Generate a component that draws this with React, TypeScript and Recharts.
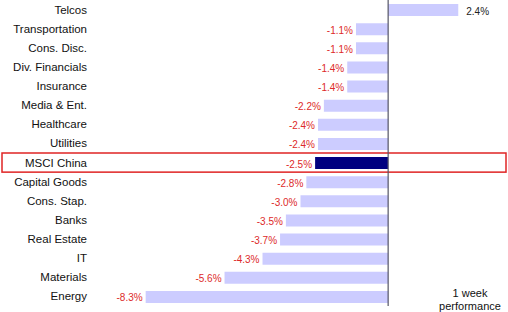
import React from 'react';
import { BarChart, Bar, XAxis, YAxis, Cell, LabelList, ReferenceLine, ReferenceArea } from 'recharts';

const sectors = [
  'Telcos', 'Transportation', 'Cons. Disc.', 'Div. Financials', 'Insurance', 'Media & Ent.',
  'Healthcare', 'Utilities', 'MSCI China', 'Capital Goods', 'Cons. Stap.', 'Banks',
  'Real Estate', 'IT', 'Materials', 'Energy',
];
const weekReturns = [2.4, -1.1, -1.1, -1.4, -1.4, -2.2, -2.4, -2.4, -2.5, -2.8, -3.0, -3.5, -3.7, -4.3, -5.6, -8.3];
const benchmark = 'MSCI China';

const data = sectors.map((name, i) => ({ name, value: weekReturns[i] }));

const FONT = 'Arial, "Liberation Sans", sans-serif';

const ValueLabel = (props: any) => {
  const { x, y, width, height, value } = props;
  const left = Math.min(x, x + width);
  const right = Math.max(x, x + width);
  const neg = value < 0;
  return (
    <text
      x={neg ? left - 3 : right + 8}
      y={y + height / 2 + 1}
      textAnchor={neg ? 'end' : 'start'}
      dominantBaseline="central"
      fontSize={10}
      fontFamily={FONT}
      fill={neg ? '#dd2a2a' : '#222'}
    >
      {value.toFixed(1)}%
    </text>
  );
};

const SectorTick = (props: any) => {
  const { x, y, payload } = props;
  return (
    <text x={x + 1} y={y} textAnchor="end" dominantBaseline="central" fontSize={11.5} fontFamily={FONT} fill="#111">
      {payload.value}
    </text>
  );
};

const HighlightBox = (p: any) => (
  <rect x={2} y={p.y} width={504} height={p.height} fill="none" stroke="#e02424" strokeWidth={1.5} />
);

export default function App() {
  return (
    <div style={{ position: 'absolute', left: 0, top: 0, width: 508, height: 312, background: '#fff' }}>
      <BarChart
        width={508}
        height={312}
        data={data}
        layout="vertical"
        margin={{ top: 0, right: 3, bottom: 6, left: 0 }}
        barSize={12}
      >
        <XAxis type="number" domain={[-10, 4]} hide />
        <YAxis
          type="category"
          dataKey="name"
          width={96}
          axisLine={false}
          tickLine={false}
          tickMargin={4}
          interval={0}
          tick={SectorTick}
        />
        <ReferenceArea y1={benchmark} y2={benchmark} ifOverflow="visible" shape={HighlightBox} />
        <Bar dataKey="value" isAnimationActive={false}>
          {data.map((d) => (
            <Cell key={d.name} fill={d.name === benchmark ? '#000080' : '#ccccff'} />
          ))}
          <LabelList dataKey="value" content={ValueLabel} />
        </Bar>
        <ReferenceLine x={0} stroke="#555566" strokeWidth={1.2} />
      </BarChart>
      <div
        style={{
          position: 'absolute', left: 430, top: 287, width: 80, textAlign: 'center',
          fontFamily: FONT, fontSize: 11, lineHeight: '13px', color: '#111',
        }}
      >
        1 week<br />performance
      </div>
    </div>
  );
}
